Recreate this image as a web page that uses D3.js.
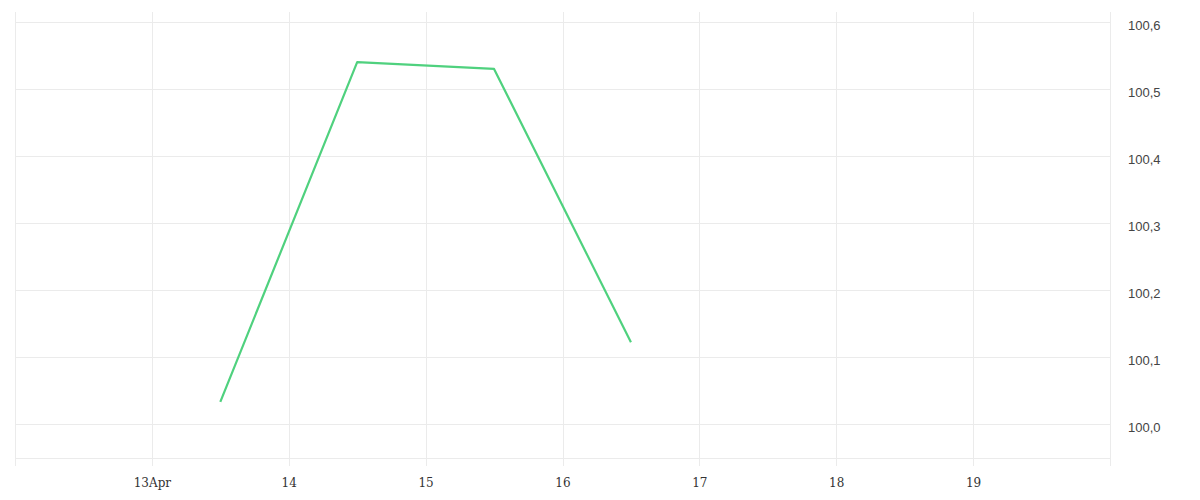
<!DOCTYPE html>
<html>
<head>
<meta charset="utf-8">
<script src="https://cdn.jsdelivr.net/npm/d3@7"></script>
<style>
  body { margin: 0; background: #fff; }
  svg { display: block; }
</style>
</head>
<body>
<svg width="1200" height="500"></svg>
<script>
// Data (daily points at noon)
const dates = ["2024-04-13T12:00", "2024-04-14T12:00", "2024-04-15T12:00", "2024-04-16T12:00"];
const values = [100.033, 100.540, 100.530, 100.122];
const yTicks = [100.0, 100.1, 100.2, 100.3, 100.4, 100.5, 100.6];
const xTickDays = ["2024-04-13", "2024-04-14", "2024-04-15", "2024-04-16", "2024-04-17", "2024-04-18", "2024-04-19"];

const parse = d3.timeParse("%Y-%m-%dT%H:%M");
const parseDay = d3.timeParse("%Y-%m-%d");
const points = dates.map((d, i) => ({ date: parse(d), value: values[i] }));

const svg = d3.select("svg");
const plotLeft = 15, plotRight = 1110, plotTop = 12, plotBottom = 458;

const x = d3.scaleTime()
  .domain([parseDay("2024-04-12"), parseDay("2024-04-20")])
  .range([plotLeft, plotRight]);

const y = d3.scaleLinear()
  .domain([99.9493, 100.6149])
  .range([plotBottom, plotTop]);

const grid = "#ebebeb";

// vertical grid lines, one per day, including edges
const days = d3.timeDay.range(parseDay("2024-04-12"), d3.timeDay.offset(parseDay("2024-04-20"), 1));
svg.append("g")
  .selectAll("line")
  .data(days)
  .enter()
  .append("line")
  .attr("x1", (d) => Math.round(x(d)) + 0.5)
  .attr("x2", (d) => Math.round(x(d)) + 0.5)
  .attr("y1", plotTop)
  .attr("y2", 466)
  .attr("stroke", grid)
  .attr("stroke-width", 1);

// horizontal grid lines
svg.append("g")
  .selectAll("line")
  .data(yTicks)
  .enter()
  .append("line")
  .attr("x1", plotLeft)
  .attr("x2", plotRight)
  .attr("y1", (d) => Math.round(y(d)) + 0.5)
  .attr("y2", (d) => Math.round(y(d)) + 0.5)
  .attr("stroke", grid);

// bottom boundary line
svg.append("line")
  .attr("x1", plotLeft)
  .attr("x2", plotRight)
  .attr("y1", plotBottom + 0.5)
  .attr("y2", plotBottom + 0.5)
  .attr("stroke", grid);

// y axis on the right
const fmt = (d) => d3.format(".1f")(d).replace(".", ",");
const yAxis = svg.append("g")
  .attr("transform", `translate(${plotRight},0)`)
  .call(d3.axisRight(y).tickValues(yTicks).tickFormat(fmt).tickSize(0).tickPadding(18));
yAxis.select(".domain").remove();
yAxis.selectAll("text")
  .attr("dy", "0.55em")
  .attr("font-family", "'Liberation Sans', Arial, sans-serif")
  .attr("font-size", 13)
  .attr("fill", "#444");

// x axis
const xFmt = (d) => d.getDate() === 13 ? "13Apr" : d3.timeFormat("%-d")(d);
const xAxis = svg.append("g")
  .attr("transform", `translate(0,${plotBottom})`)
  .call(d3.axisBottom(x).tickValues(xTickDays.map(parseDay)).tickFormat(xFmt).tickSize(0).tickPadding(20));
xAxis.select(".domain").remove();
xAxis.selectAll("text")
  .attr("font-family", "'DejaVu Serif', serif")
  .attr("font-size", 12)
  .attr("fill", "#333");

// line
const line = d3.line()
  .x((d) => x(d.date))
  .y((d) => y(d.value));

svg.append("path")
  .datum(points)
  .attr("d", line)
  .attr("fill", "none")
  .attr("stroke", "#4fd17e")
  .attr("stroke-width", 2.2)
  .attr("stroke-linejoin", "round");
</script>
</body>
</html>
